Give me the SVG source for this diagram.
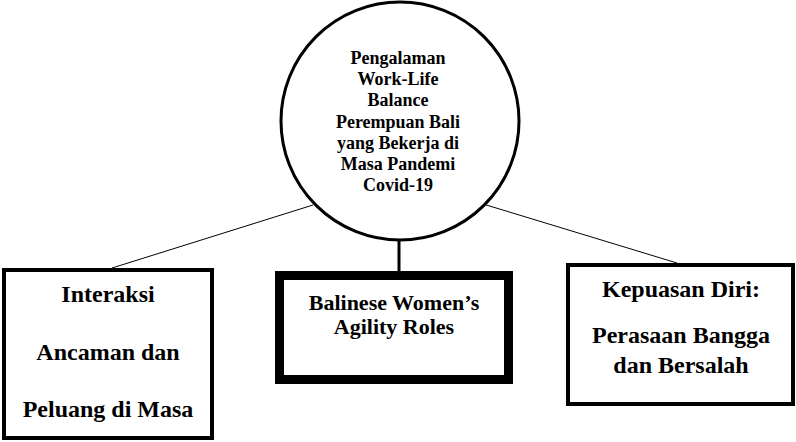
<svg xmlns="http://www.w3.org/2000/svg" width="796" height="442" viewBox="0 0 796 442">
<style>
text{font-family:"Liberation Serif","Times New Roman",serif;font-weight:bold;fill:#000;text-anchor:middle}
.c{font-size:18px}
.m{font-size:22px}
.b{font-size:24px}
.box{fill:#fff;stroke:#000}
.ln{stroke:#000;fill:none}
</style>
<rect width="796" height="442" fill="#fff"/>
<g id="connectors">
<line class="ln" x1="313" y1="205" x2="112" y2="268" stroke-width="1"/>
<line class="ln" x1="483" y1="204" x2="677" y2="263" stroke-width="1"/>
<line class="ln" x1="399" y1="239" x2="399" y2="272" stroke-width="3"/>
</g>
<g id="center">
<circle class="box" cx="400" cy="121" r="119" stroke-width="3"/>
<text class="c" x="398" y="64">Pengalaman</text>
<text class="c" x="398" y="85">Work-Life</text>
<text class="c" x="398" y="106">Balance</text>
<text class="c" x="398" y="128">Perempuan Bali</text>
<text class="c" x="398" y="149">yang Bekerja di</text>
<text class="c" x="398" y="170">Masa Pandemi</text>
<text class="c" x="398" y="191">Covid-19</text>
</g>
<g id="left">
<rect class="box" x="4" y="270" width="208" height="168" stroke-width="4"/>
<text class="b" x="108" y="302">Interaksi</text>
<text class="b" x="108" y="360">Ancaman dan</text>
<text class="b" x="108" y="417">Peluang di Masa</text>
</g>
<g id="middle">
<rect class="box" x="279.5" y="275.5" width="229" height="104" stroke-width="9"/>
<text class="m" x="394" y="310">Balinese Women’s</text>
<text class="m" x="394" y="334">Agility Roles</text>
</g>
<g id="right">
<rect class="box" x="568" y="265" width="225" height="139" stroke-width="4"/>
<text class="b" x="681" y="297">Kepuasan Diri:</text>
<text class="b" x="681" y="343">Perasaan Bangga</text>
<text class="b" x="681" y="373">dan Bersalah</text>
</g>
</svg>
